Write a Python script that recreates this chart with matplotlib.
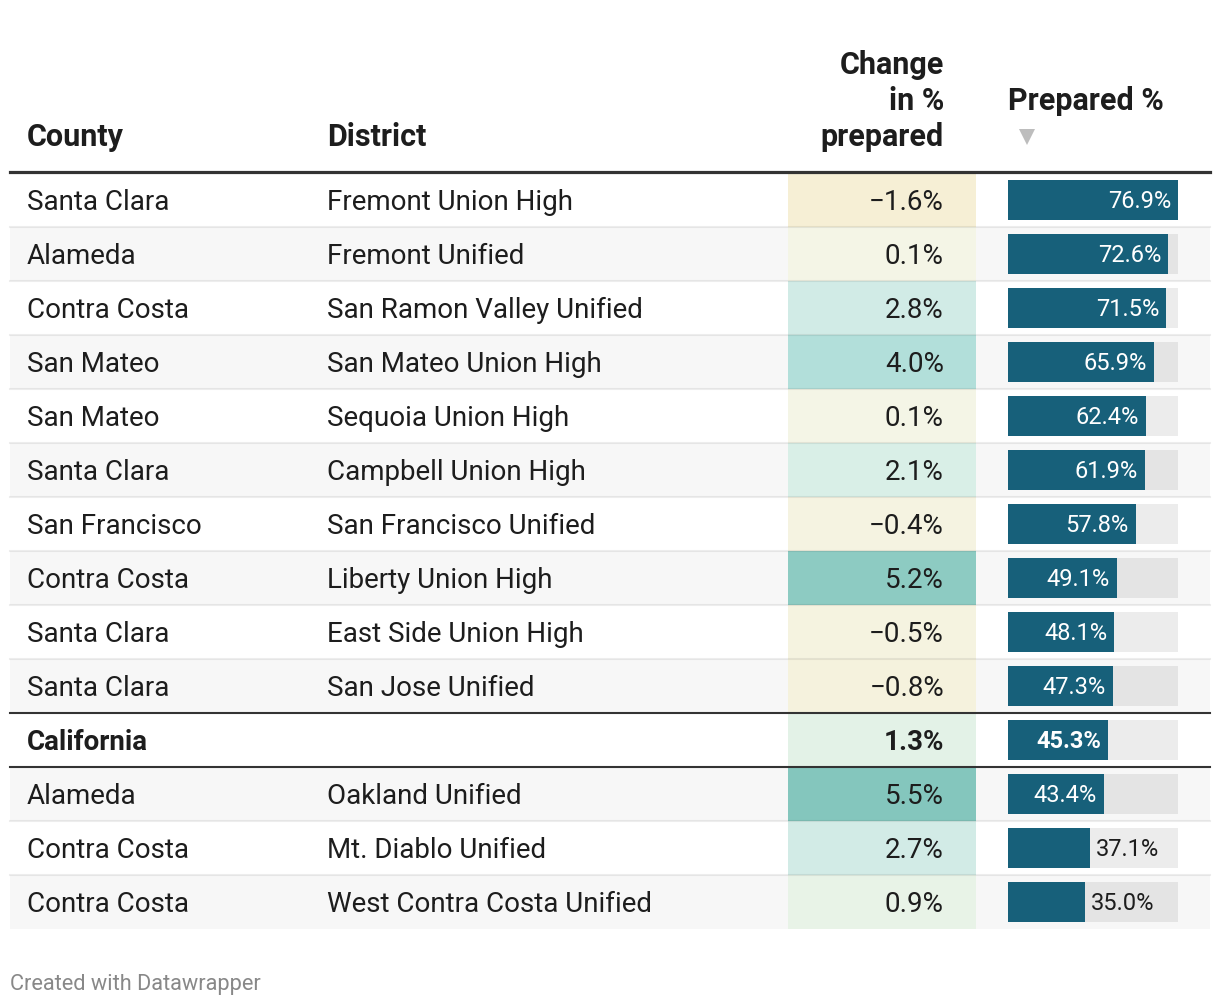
import numpy as np
import matplotlib
matplotlib.use("Agg")
import matplotlib.pyplot as plt
from matplotlib.colors import LinearSegmentedColormap

plt.rcParams['font.family'] = ['Roboto', 'DejaVu Sans']

# table data
counties = ["Santa Clara", "Alameda", "Contra Costa", "San Mateo", "San Mateo",
            "Santa Clara", "San Francisco", "Contra Costa", "Santa Clara",
            "Santa Clara", "California", "Alameda", "Contra Costa", "Contra Costa"]
districts = ["Fremont Union High", "Fremont Unified", "San Ramon Valley Unified",
             "San Mateo Union High", "Sequoia Union High", "Campbell Union High",
             "San Francisco Unified", "Liberty Union High", "East Side Union High",
             "San Jose Unified", "", "Oakland Unified", "Mt. Diablo Unified",
             "West Contra Costa Unified"]
change = [-1.6, 0.1, 2.8, 4.0, 0.1, 2.1, -0.4, 5.2, -0.5, -0.8, 1.3, 5.5, 2.7, 0.9]
prepared = [76.9, 72.6, 71.5, 65.9, 62.4, 61.9, 57.8, 49.1, 48.1, 47.3, 45.3,
            43.4, 37.1, 35.0]
highlight = "California"

headers = ["County", "District", "Change\nin %\nprepared", "Prepared %"]
footer = "Created with Datawrapper"

# colour scale stops for the change column
stop_vals = [-1.6, 0.1, 0.9, 2.1, 2.8, 4.0, 5.5]
stop_cols = ['#f6efd5', '#f4f5e6', '#e8f3e7', '#d9efe7', '#d1ebe6', '#b2dfda', '#84c6bd']

# layout in pixels
W, H = 1220, 1006
left, right = 10, 1210
col_x = [27, 327]
chg_l, chg_r, chg_txt = 788, 976, 944
bar_l, bar_w, bar_h = 1008, 170, 40
head_line = 171.5
row_top0 = 173
row_h = 54

ink = '#1d1d1d'
bar_col = '#17607a'
fs = 20
fs_head = 22
fs_bar = 17

cmin, cmax = min(stop_vals), max(stop_vals)
cmap = LinearSegmentedColormap.from_list(
    'chg', [((v - cmin) / (cmax - cmin), c) for v, c in zip(stop_vals, stop_cols)])

fig = plt.figure(figsize=(W / 100, H / 100), dpi=100)
ax = fig.add_axes([0, 0, 1, 1])
ax.set_xlim(0, W)
ax.set_ylim(H, 0)
ax.axis('off')

n = len(counties)
tops = row_top0 + row_h * np.arange(n)
centers = tops + row_h / 2 - 1

# row backgrounds
for i in range(n):
    if i % 2 == 1:
        ax.add_patch(plt.Rectangle((left, tops[i]), right - left, row_h,
                                   color='#f7f7f7', lw=0, zorder=0))
    c = cmap((change[i] - cmin) / (cmax - cmin))
    ax.add_patch(plt.Rectangle((chg_l, tops[i]), chg_r - chg_l, row_h,
                               color=c, lw=0, zorder=1))

# row separators
for i in range(1, n):
    if counties[i] == highlight or counties[i - 1] == highlight:
        ax.plot([left, right], [tops[i], tops[i]], color='#333333', lw=1.5, zorder=4)
    else:
        ax.plot([left, right], [tops[i], tops[i]], color='black', alpha=0.07,
                lw=1.5, zorder=4)
ax.plot([left, right], [head_line, head_line], color='#333333', lw=2.3, zorder=4)

# bars
vmax = max(prepared)
widths = [v / vmax * bar_w for v in prepared]
ax.barh(tops + row_h / 2, [bar_w] * n, height=bar_h, left=bar_l, color='black',
        alpha=0.075, lw=0, zorder=2)
ax.barh(tops + row_h / 2, widths, height=bar_h, left=bar_l, color=bar_col, lw=0,
        zorder=3)

for i in range(n):
    bold = counties[i] == highlight
    fw = 'bold' if bold else 'normal'
    ax.text(col_x[0], centers[i], counties[i], fontsize=fs, color=ink,
            fontweight=fw, va='center_baseline', ha='left', zorder=5)
    ax.text(col_x[1], centers[i], districts[i], fontsize=fs, color=ink,
            fontweight=fw, va='center_baseline', ha='left', zorder=5)
    ax.text(chg_txt, centers[i], f"{change[i]:.1f}%".replace('-', '\u2212'),
            fontsize=fs, color=ink, fontweight=fw, va='center_baseline',
            ha='right', zorder=5)
    lab = f"{prepared[i]:.1f}%"
    if widths[i] > 90:
        ax.text(bar_l + widths[i] - 7, centers[i], lab, fontsize=fs_bar,
                color='white', fontweight=fw, va='center_baseline', ha='right',
                zorder=5)
    else:
        ax.text(bar_l + widths[i] + 6, centers[i], lab, fontsize=fs_bar,
                color=ink, fontweight=fw, va='center_baseline', ha='left',
                zorder=5)

# header
hy = 134
ax.text(col_x[0], hy, headers[0], fontsize=fs_head, fontweight='bold', color=ink,
        va='center_baseline', ha='left')
ax.text(col_x[1], hy, headers[1], fontsize=fs_head, fontweight='bold', color=ink,
        va='center_baseline', ha='left')
for k, line in enumerate(reversed(headers[2].split('\n'))):
    ax.text(chg_txt, hy - 36 * k, line, fontsize=fs_head, fontweight='bold',
            color=ink, va='center_baseline', ha='right')
ax.text(bar_l, hy - 36, headers[3], fontsize=fs_head, fontweight='bold', color=ink,
        va='center_baseline', ha='left')
ax.plot(bar_l + 19, hy + 3, marker='v', ms=11, color='#bdbdbd', mew=0)

ax.text(left, 982, footer, fontsize=15.7, color='#888888', va='center_baseline',
        ha='left')

fig.savefig('out.png', dpi=100)
